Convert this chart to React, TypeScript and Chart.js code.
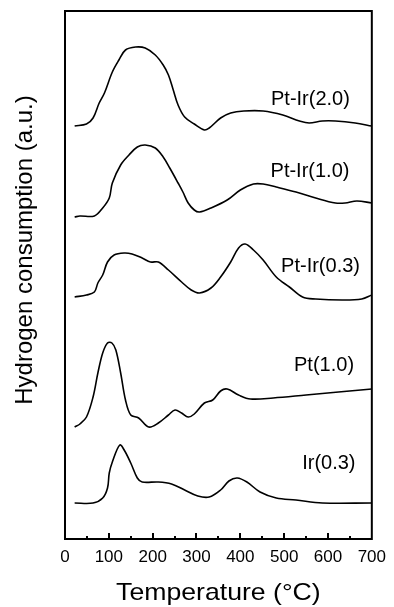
import { useEffect, useRef } from 'react';
import { Chart, registerables } from 'chart.js';

Chart.register(...registerables);

const FONT = '"Liberation Sans", Arimo, Arial, Helvetica, sans-serif';

// X axis
const xTickLabels = [0, 100, 200, 300, 400, 500, 600, 700];
const majorTicks = [100, 200, 300, 400, 500, 600];
const minorTicks = [50, 150, 250, 350, 450, 550, 650];

// Pt-Ir(2.0)
const tPtIr20 = [22, 49, 64, 78, 90, 108, 123, 138, 161, 183, 206, 224, 236, 247, 258, 273, 295, 318, 329, 355, 378, 408, 452, 497, 535, 557, 587, 617, 662, 700];
const vPtIr20 = [413, 415, 421, 436, 446, 467, 479, 489, 492, 491, 484, 474, 464, 449, 434, 422, 415, 409, 411, 421, 426, 428, 428, 424, 418, 416, 418, 418, 416, 413];

// Pt-Ir(1.0)
const tPtIr10 = [22, 34, 67, 86, 101, 108, 127, 146, 165, 183, 206, 224, 239, 258, 269, 281, 295, 307, 333, 370, 400, 430, 452, 482, 527, 572, 617, 639, 666, 700];
const vPtIr10 = [322, 323, 323, 331, 341, 356, 374, 384, 392, 394, 391, 382, 371, 356, 347, 336, 329, 327, 331, 339, 349, 355, 355, 352, 347, 341, 336, 336, 338, 336];

// Pt-Ir(0.3)
const tPtIr03 = [22, 49, 67, 75, 86, 97, 112, 135, 153, 176, 195, 213, 236, 266, 288, 307, 333, 355, 378, 396, 411, 430, 452, 482, 512, 542, 572, 632, 677, 700];
const vPtIr03 = [242, 244, 247, 256, 264, 277, 284, 286, 285, 281, 277, 277, 269, 257, 249, 246, 251, 262, 277, 291, 295, 289, 279, 262, 252, 242, 240, 239, 240, 244];

// Pt(1.0)
const tPt10 = [22, 34, 49, 64, 75, 86, 97, 107, 116, 127, 138, 150, 168, 191, 213, 236, 251, 266, 281, 295, 318, 337, 355, 370, 396, 423, 475, 550, 624, 700];
const vPt10 = [112, 115, 122, 142, 166, 186, 196, 196, 189, 166, 139, 124, 121, 112, 116, 124, 129, 126, 122, 125, 136, 139, 148, 150, 144, 140, 141, 144, 147, 150];

// Ir(0.3)
const tIr03 = [22, 64, 86, 97, 101, 108, 125, 135, 150, 165, 176, 213, 243, 273, 303, 329, 355, 374, 393, 415, 445, 482, 527, 587, 700];
const vIr03 = [36, 36, 41, 51, 66, 77, 94, 89, 76, 61, 57, 57, 55, 49, 43, 42, 49, 58, 61, 57, 47, 41, 39, 36, 36];

const seriesT = [tPtIr20, tPtIr10, tPtIr03, tPt10, tIr03];
const seriesV = [vPtIr20, vPtIr10, vPtIr03, vPt10, vIr03];

// Curve labels (data coordinates of label centre)
const curveLabels = ['Pt-Ir(2.0)', 'Pt-Ir(1.0)', 'Pt-Ir(0.3)', 'Pt(1.0)', 'Ir(0.3)'];
const labelT = [560, 559, 583, 591, 602];
const labelV = [440, 368, 273, 174, 76];

const xTitle = 'Temperature (°C)';
const yTitle = 'Hydrogen consumption (a.u.)';

const decorPlugin = {
  id: 'decor',
  afterDraw(chart: any) {
    const { ctx, chartArea } = chart;
    const xs = chart.scales.x;
    const ys = chart.scales.y;
    const { left, right, top, bottom } = chartArea;
    ctx.save();
    ctx.strokeStyle = '#000';
    ctx.fillStyle = '#000';
    // frame
    ctx.lineWidth = 2;
    ctx.strokeRect(left, top, right - left, bottom - top);
    // inner ticks
    ctx.beginPath();
    majorTicks.forEach((t) => {
      const px = Math.round(xs.getPixelForValue(t));
      ctx.moveTo(px, bottom);
      ctx.lineTo(px, bottom - 6);
    });
    minorTicks.forEach((t) => {
      const px = Math.round(xs.getPixelForValue(t));
      ctx.moveTo(px, bottom);
      ctx.lineTo(px, bottom - 3);
    });
    ctx.stroke();
    // curve labels
    ctx.font = `20px ${FONT}`;
    ctx.textAlign = 'center';
    ctx.textBaseline = 'middle';
    curveLabels.forEach((lab, i) => {
      ctx.fillText(lab, xs.getPixelForValue(labelT[i]), ys.getPixelForValue(labelV[i]));
    });
    // y title
    ctx.save();
    ctx.font = `24px ${FONT}`;
    ctx.textBaseline = 'alphabetic';
    ctx.translate(32, 250);
    ctx.rotate(-Math.PI / 2);
    ctx.fillText(yTitle, 0, 0);
    ctx.restore();
    // x title
    ctx.save();
    ctx.font = `24px ${FONT}`;
    ctx.textBaseline = 'alphabetic';
    ctx.translate((left + right) / 2, 600);
    ctx.scale(1.11, 1);
    ctx.fillText(xTitle, 0, 0);
    ctx.restore();
    ctx.restore();
  },
};

export default function App() {
  const ref = useRef<HTMLCanvasElement | null>(null);
  useEffect(() => {
    if (!ref.current) return;
    const chart = new Chart(ref.current, {
      type: 'line',
      data: {
        datasets: seriesT.map((ts, i) => ({
          label: curveLabels[i],
          data: ts.map((t, j) => ({ x: t, y: seriesV[i][j] })),
          borderColor: '#000',
          borderWidth: 1.6,
          pointRadius: 0,
          fill: false,
          tension: 0.35,
        })),
      },
      options: {
        responsive: false,
        animation: false,
        layout: { padding: { left: 65, top: 11, right: 17, bottom: 0 } },
        plugins: { legend: { display: false }, tooltip: { enabled: false } },
        scales: {
          x: {
            type: 'linear',
            min: 0,
            max: 700,
            border: { display: false },
            grid: { display: false, drawTicks: false, tickLength: 0 },
            ticks: {
              stepSize: 100,
              autoSkip: false,
              maxRotation: 0,
              padding: 8,
              color: '#000',
              font: { size: 17, family: FONT },
              callback: (v: any) => (xTickLabels.includes(Number(v)) ? String(v) : ''),
            },
            afterFit: (s: any) => {
              s.height = 68;
            },
          },
          y: { type: 'linear', display: false, min: 0, max: 528 },
        },
      },
      plugins: [decorPlugin],
    });
    return () => chart.destroy();
  }, []);
  return (
    <div style={{ position: 'fixed', left: 0, top: 0, width: 394, height: 607, background: '#fff' }}>
      <canvas ref={ref} width={394} height={607} />
    </div>
  );
}
